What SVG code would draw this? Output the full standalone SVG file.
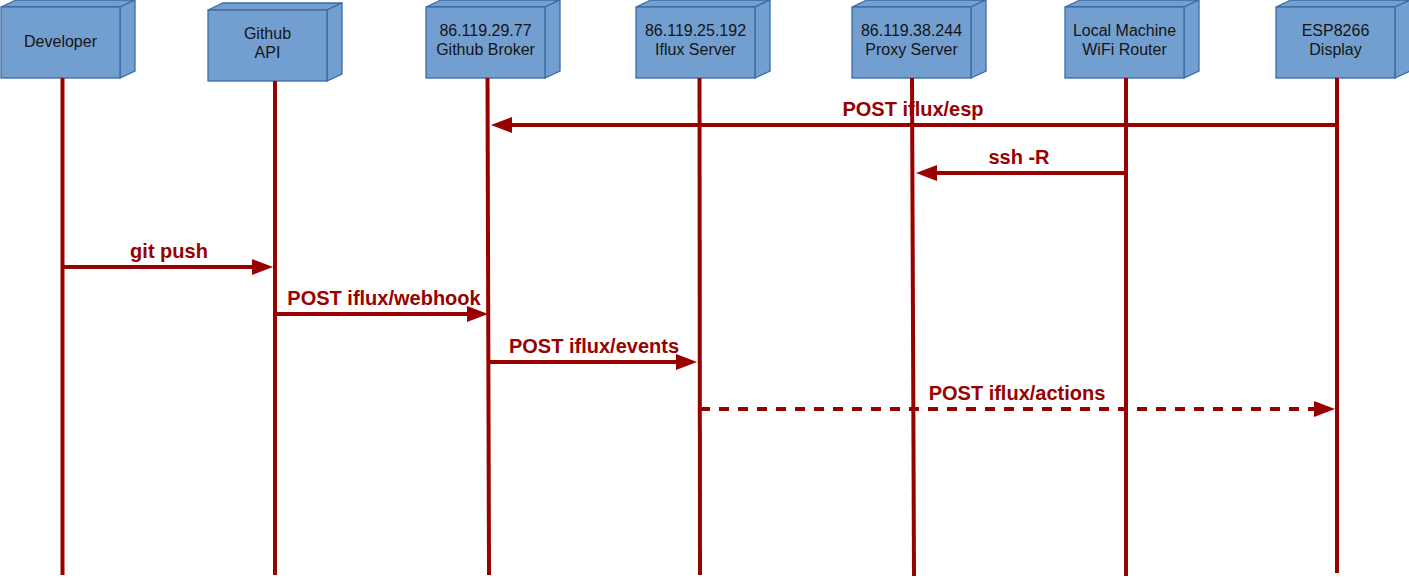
<svg xmlns="http://www.w3.org/2000/svg" width="1409" height="579" viewBox="0 0 1409 579">
<defs>
<style>
.box{fill:#729fcf;stroke:#3a6ba5;stroke-width:1.3;stroke-linejoin:miter}
.nt{font-family:"Liberation Sans",Arial,sans-serif;font-size:16px;fill:#151515;text-anchor:middle}
.life{stroke:#990000;stroke-width:4;fill:none}
.msg{stroke:#990000;stroke-width:4;fill:none}
.dash{stroke-dasharray:10 9}
.lbl{font-family:"Liberation Sans",Arial,sans-serif;font-size:20px;font-weight:bold;fill:#990000;text-anchor:middle}
</style>
<marker id="ah" markerUnits="userSpaceOnUse" markerWidth="22" markerHeight="18" refX="2" refY="8" orient="auto" viewBox="0 0 22 16">
<path d="M0,0 L21,8 L0,16 Z" fill="#990000"/>
</marker>
<g id="cube">
<polygon class="box" points="0,0 15,-7 134,-7 119,0"/>
<polygon class="box" points="119,0 134,-7 134,64 119,71"/>
<rect class="box" x="0" y="0" width="119" height="71"/>
</g>
</defs>
<rect width="1409" height="579" fill="#ffffff"/>

<g id="labels">
<text class="lbl" x="913" y="116">POST iflux/esp</text>
<text class="lbl" x="1019" y="164">ssh -R</text>
<text class="lbl" x="169" y="258">git push</text>
<text class="lbl" x="384" y="305">POST iflux/webhook</text>
<text class="lbl" x="594" y="353">POST iflux/events</text>
<text class="lbl" x="1017" y="400">POST iflux/actions</text>
</g>

<g id="connectors">
<line class="msg" x1="1337" y1="125" x2="510" y2="125" marker-end="url(#ah)"/>
<line class="msg" x1="1126" y1="173" x2="935" y2="173" marker-end="url(#ah)"/>
<line class="msg" x1="62" y1="267" x2="254" y2="267" marker-end="url(#ah)"/>
<line class="msg" x1="275" y1="314" x2="469" y2="314" marker-end="url(#ah)"/>
<line class="msg" x1="489" y1="362" x2="678" y2="362" marker-end="url(#ah)"/>
<line class="msg dash" x1="700" y1="409" x2="1316" y2="409" marker-end="url(#ah)"/>
</g>

<g id="developer">
<use href="#cube" x="1" y="7"/>
<text class="nt" x="60.5" y="47">Developer</text>
<line class="life" x1="62.5" y1="78" x2="62.5" y2="575"/>
</g>
<g id="github-api">
<use href="#cube" x="208" y="10"/>
<text class="nt" x="267.5" y="39">Github</text>
<text class="nt" x="267.5" y="58">API</text>
<line class="life" x1="275" y1="81" x2="275" y2="575"/>
</g>
<g id="github-broker">
<use href="#cube" x="426" y="7"/>
<text class="nt" x="485.5" y="36">86.119.29.77</text>
<text class="nt" x="485.5" y="55">Github Broker</text>
<line class="life" x1="487.5" y1="78" x2="489" y2="575"/>
</g>
<g id="iflux-server">
<use href="#cube" x="636" y="7"/>
<text class="nt" x="695.5" y="36">86.119.25.192</text>
<text class="nt" x="695.5" y="55">Iflux Server</text>
<line class="life" x1="699.5" y1="78" x2="700" y2="575"/>
</g>
<g id="proxy-server">
<use href="#cube" x="852" y="7"/>
<text class="nt" x="911.5" y="36">86.119.38.244</text>
<text class="nt" x="911.5" y="55">Proxy Server</text>
<line class="life" x1="912" y1="78" x2="914" y2="576"/>
</g>
<g id="local-machine">
<use href="#cube" x="1065" y="7"/>
<text class="nt" x="1124.5" y="36">Local Machine</text>
<text class="nt" x="1124.5" y="55">WiFi Router</text>
<line class="life" x1="1126" y1="78" x2="1126" y2="576"/>
</g>
<g id="esp8266">
<use href="#cube" x="1276" y="7"/>
<text class="nt" x="1335.5" y="36">ESP8266</text>
<text class="nt" x="1335.5" y="55">Display</text>
<line class="life" x1="1337" y1="78" x2="1337" y2="573"/>
</g>
</svg>
